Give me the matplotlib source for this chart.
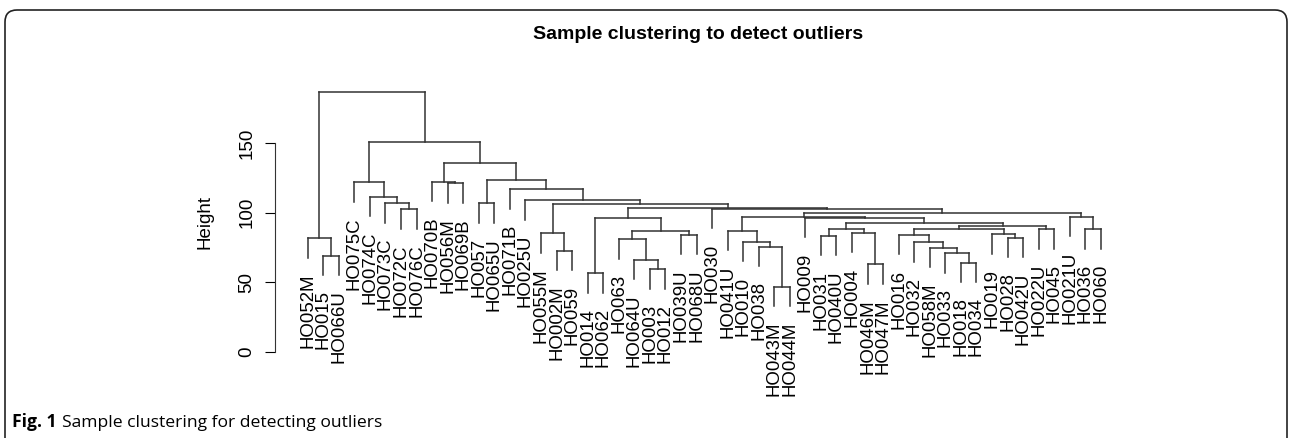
import matplotlib.pyplot as plt
from matplotlib.patches import FancyBboxPatch
from matplotlib.transforms import IdentityTransform

# leaf labels, left to right as drawn
labels = ["HO052M", "HO015", "HO066U", "HO075C", "HO074C", "HO073C", "HO072C",
          "HO076C", "HO070B", "HO056M", "HO069B", "HO057", "HO065U", "HO071B",
          "HO025U", "HO055M", "HO002M", "HO059", "HO014", "HO062", "HO063",
          "HO064U", "HO003", "HO012", "HO039U", "HO068U", "HO030", "HO041U",
          "HO010", "HO038", "HO043M", "HO044M", "HO009", "HO031", "HO040U",
          "HO004", "HO046M", "HO047M", "HO016", "HO032", "HO058M", "HO033",
          "HO018", "HO034", "HO019", "HO028", "HO042U", "HO022U", "HO045",
          "HO021U", "HO036", "HO060"]

# hclust-style merges: negative = leaf number, positive = earlier merge
merge_a = [-31, -19, -23, -37, -43, -22, -2, -42, -17, -41, -30, -40, -29, -21,
           -1, -46, -34, -39, -25, -45, -16, -36, -28, 14, 18, -48, 17, -51, 25,
           27, 2, -33, 23, -50, 33, -27, 31, 21, -12, -15, -14, -10, -9, 39, 43,
           -7, -6, -5, -4, 49, 15]
merge_b = [-32, -20, -24, -38, -44, 3, -3, 5, -18, 8, 1, 10, 11, 6,
           7, -47, -35, 12, -26, 16, 9, 4, 13, 19, 20, -49, 22, -52, 26,
           29, 24, 30, 32, 28, 34, 35, 36, 37, -13, 38, 40, -11, 42, 41, 44,
           -8, 46, 47, 48, 45, 50]
heights = [46.8, 56.4, 59.5, 62.9, 64.1, 66.0, 69.1, 70.8, 72.5, 74.9, 75.6,
           78.7, 79.2, 81.1, 81.6, 82.1, 83.3, 84.0, 84.0, 84.7, 85.2, 85.7,
           86.9, 87.1, 88.1, 88.1, 88.3, 88.1, 90.7, 92.9, 96.0, 96.3, 96.8,
           97.2, 100.1, 103.0, 103.5, 106.3, 106.8, 109.0, 117.0, 121.3, 122.4,
           123.8, 135.6, 102.5, 107.0, 111.4, 122.0, 151.0, 187.2]

yticks = [0, 50, 100, 150]

hang = 0.1 * (max(heights) - min(heights))
line_c = "#333333"

fig = plt.figure(figsize=(12.92, 4.38), dpi=100)
ax = fig.add_axes([0.2129, 0.1781, 0.6618, 0.6279])
ax.set_xlim(-1.10, 53.88)
ax.set_ylim(-6, 192)

mx = []


def child_x(ref):
    return -ref if ref < 0 else mx[ref - 1]


for a, b, h in zip(merge_a, merge_b, heights):
    xa, xb = child_x(a), child_x(b)
    for ref, xc in ((a, xa), (b, xb)):
        if ref < 0:
            low = h - hang
            ax.annotate(labels[-ref - 1], (xc, low), xytext=(0, -11),
                        textcoords="offset points", rotation=90,
                        ha="center", va="top", fontsize=13.4,
                        family="Liberation Sans", annotation_clip=False)
        else:
            low = heights[ref - 1]
        ax.plot([xc, xc], [low, h], color=line_c, lw=1.1)
    ax.plot([xa, xb], [h, h], color=line_c, lw=1.1)
    mx.append((xa + xb) / 2)

for s in ["top", "right", "bottom"]:
    ax.spines[s].set_visible(False)
ax.spines["left"].set_bounds(0, 150)
ax.spines["left"].set_color(line_c)
ax.set_xticks([])
ax.set_yticks(yticks)
ax.set_yticklabels([str(t) for t in yticks], rotation=90, va="center",
                   fontsize=13.5, family="Liberation Sans")
ax.tick_params(axis="y", length=7, pad=7, colors="black")
ax.set_ylabel("Height", fontsize=13.5, family="Liberation Sans", labelpad=18)

fig.text(0.540, 0.922, "Sample clustering to detect outliers", ha="center",
         va="center", fontsize=14, fontweight="bold", family="Liberation Sans")

# caption below the plot
fig.canvas.draw()
r = fig.canvas.get_renderer()
t1 = fig.text(12 / 1292, 0.025, "Fig. 1", fontsize=12.6, fontweight="bold",
              family="Open Sans", va="baseline")
bb = t1.get_window_extent(renderer=r)
fig.text((bb.x1 + 5) / 1292, 0.025, "Sample clustering for detecting outliers",
         fontsize=12.6, family="Open Sans", va="baseline")

# rounded frame of the figure panel
frame = FancyBboxPatch((5, -30), 1282, 30 + 428,
                       boxstyle="round,pad=0,rounding_size=12",
                       transform=IdentityTransform(), fill=False,
                       edgecolor="#222222", lw=1.2)
fig.add_artist(frame)

fig.savefig("out.png", dpi=100)
